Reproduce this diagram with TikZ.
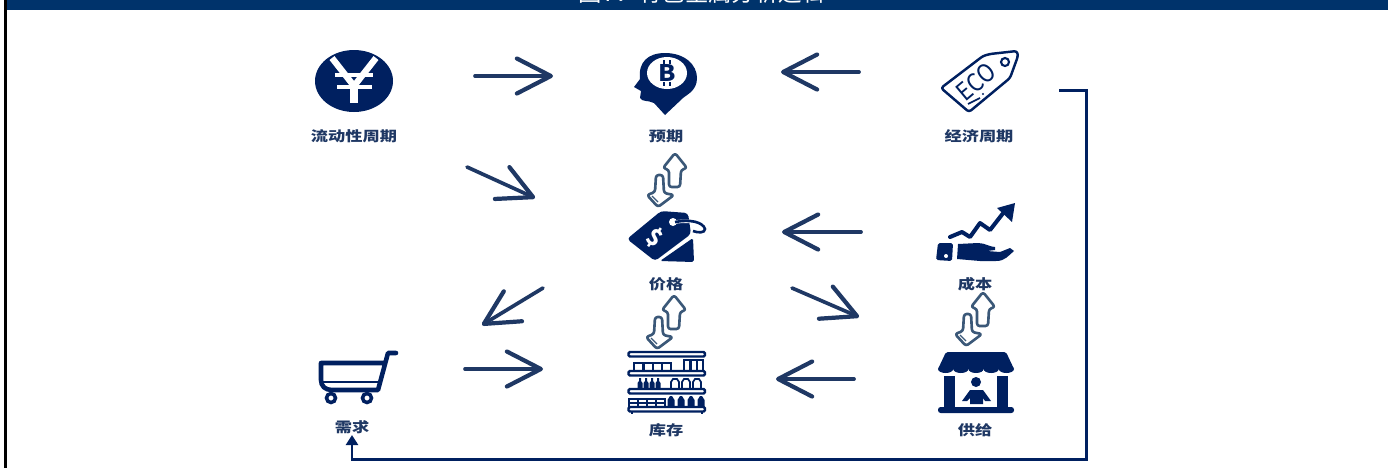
\documentclass[tikz,border=0pt]{standalone}
\usepackage{fontspec}
\setmainfont{Noto Sans CJK SC}
\usetikzlibrary{arrows.meta}
\definecolor{navy}{HTML}{002060}
\definecolor{arrowblue}{HTML}{1F3864}
\definecolor{bandblue}{HTML}{00336B}
\definecolor{swapgray}{HTML}{3B5878}
\tikzset{
  iconbox/.style={minimum width=1.5cm,minimum height=1.2cm,inner sep=0pt},
  iconlabel/.style={text=arrowblue,font=\fontsize{7.9pt}{9pt}\selectfont\bfseries,xscale=1.24,transform shape,inner sep=0pt},
  flowarrow/.style={draw=arrowblue,line width=2.1pt,line cap=round,-{Straight Barb[length=0.68cm,width=0.7cm,round,line width=2.4pt]}},
  feedline/.style={draw=navy,line width=1.7pt,-{Triangle[length=0.2cm,width=0.24cm]}},
  swapline/.style={draw=swapgray,line width=1.5pt,line join=round,rounded corners=1.5pt,fill=white},
  swaparrows/.pic={
    \draw[swapline] (-4,-12) -- (8,-27) -- (20,-12) -- (14,-10) -- (13,7) -- (2,7) -- (2,-10) -- cycle;
    \draw[swapline] (-11,-5) -- (-4,-5) -- (-3,13) -- (7,15) -- (-9,27) -- (-20,15) -- (-12,12) -- cycle;
    \draw[swapgray,line width=0.7pt] (-15,16) -- (-9,22);
  }
}
\begin{document}
\begin{tikzpicture}[x=0.02cm,y=-0.02cm]
  \useasboundingbox (0,0) rectangle (1388,468);
  % Frame and the title band
  \fill[bandblue] (5,0) rectangle (1388,9.5);
  \fill[black] (4,0) rectangle (7,468);
  \begin{scope}
    \clip (0,0) rectangle (1388,9.5);
    \node[text=white,font=\fontsize{13.3pt}{15pt}\selectfont,inner sep=0pt] (title) at (702,-7) {图7：有色金属分析逻辑};
  \end{scope}

  % Icon places
  \node[iconbox] (liq) at (354,81) {};
  \node[iconbox] (expect) at (666,82) {};
  \node[iconbox] (eco) at (979,81) {};
  \node[iconbox] (price) at (666,235) {};
  \node[iconbox] (cost) at (975,233) {};
  \node[iconbox] (stock) at (666,382) {};
  \node[iconbox] (supply) at (975,381) {};
  \node[iconbox] (cart) at (358,377) {};

  % Labels
  \node[iconlabel] (liqlabel) at (354,136) {流动性周期};
  \node[iconlabel] (expectlabel) at (666,136) {预期};
  \node[iconlabel] (ecolabel) at (979,136) {经济周期};
  \node[iconlabel] (pricelabel) at (666,284) {价格};
  \node[iconlabel] (costlabel) at (975,284) {成本};
  \node[iconlabel] (stocklabel) at (666,430) {库存};
  \node[iconlabel] (supplylabel) at (975,430) {供给};
  \node[iconlabel] (cartlabel) at (352,427) {需求};

  % Yen coin
  \fill[navy] (354,81) ellipse [x radius=39,y radius=31];
  \draw[white,line width=3.6pt] (332,58) -- (354,86) -- (376,58);
  \draw[white,line width=4pt] (354,82) -- (354,103);
  \draw[white,line width=2.4pt] (335,75) -- (373,75) (337,87) -- (372,87);

  % Head with coin
  \fill[navy] (665,53) .. controls (685,53) and (697,65) .. (697,78)
    .. controls (697,90) and (688,94) .. (683,98) -- (665,115) -- (654,103)
    .. controls (648,100) and (642,102) .. (640,98) -- (641,91) -- (634,87) -- (640,79)
    .. controls (638,62) and (648,53) .. (665,53) -- cycle;
  \fill[white] (667,73) ellipse [x radius=20,y radius=16];
  \node[text=navy,font=\fontsize{13pt}{14pt}\selectfont\bfseries,inner sep=0pt,xscale=1.1] (coinmark) at (667,73) {B};
  \draw[navy,line width=1.1pt] (664,60) -- (664,64) (670,60) -- (670,64) (664,82) -- (664,86) (670,82) -- (670,86);

  % ECO tag
  \draw[navy,line width=1.4pt,line join=round,rounded corners=1.5pt] (1017,51) -- (1018,56) -- (1010,78) -- (969,112) -- (941,88) -- (983,56) -- (990,54) -- cycle;
  \draw[navy,line width=1.2pt] (1005,62) circle (4);
  \node[text=navy,font=\fontsize{14pt}{15pt}\selectfont,rotate=40,inner sep=0pt,xscale=0.9] (ecomark) at (976,82) {ECO};
  \draw[navy,line width=1pt] (968,104) -- (980,98);
  \fill[navy] (983,94) circle (1.2);

  % Price tag
  \fill[navy,rounded corners=2pt] (627,239) -- (661,211) -- (688,213) -- (691,234) -- (655,261) -- cycle;
  \fill[navy,rounded corners=1pt] (660,261) -- (693,238) -- (694,262) -- cycle;
  \fill[white] (673,222) circle (4);
  \draw[white,line width=2pt] (675,222) .. controls (690,220) and (700,222) .. (705,229);
  \draw[navy,line width=1.5pt] (675,222) .. controls (690,219) and (703,222) .. (705,229) .. controls (705,233) and (698,233) .. (693,231);
  \node[text=white,font=\fontsize{13pt}{14pt}\selectfont\bfseries,rotate=-35,inner sep=0pt] (pricemark) at (655,238) {\$};

  % Hand with rising line
  \draw[navy,line width=2.3pt,line cap=round,line join=round] (950,237) -- (962,232) -- (970,237) -- (980,223) -- (990,230) -- (1004,212);
  \fill[navy] (1015,203) -- (997,208) -- (1012,222) -- cycle;
  \fill[navy,rounded corners=1pt] (938,243) -- (953,243) -- (952,261) -- (936,260) -- cycle;
  \fill[white] (946,256) circle (2);
  \fill[navy] (958,244) -- (978,243) .. controls (985,243) and (990,247) .. (995,247) -- (995,250) -- (987,251) -- (1000,252) -- (1010,248) -- (1014,251)
    .. controls (1008,256) and (1005,261) .. (996,261) -- (980,261) -- (957,259) -- cycle;

  % Market stall
  \fill[navy,rounded corners=1pt] (946,352) -- (1006,352) -- (1014,369) -- (938,369) -- cycle;
  \foreach \sx in {945.6,960.8,976,991.2,1006.4}{
    \fill[navy] (\sx,369) ellipse [x radius=7.6,y radius=4];
  }
  \fill[navy] (944,376) rectangle (955,408);
  \fill[navy] (997,376) rectangle (1008,408);
  \fill[navy,rounded corners=1.5pt] (938,407) rectangle (1014,413);
  \fill[navy] (976,382) circle (5);
  \fill[navy] (962,401) -- (970,390) -- (983,390) -- (991,401) -- (985,401) -- (983,398) -- (983,404) -- (970,404) -- (970,398) -- (967,401) -- cycle;

  % Shelves
  \foreach \sx in {634,644,653,662}{
    \draw[navy,line width=1pt] (\sx,363) rectangle (\sx+9,371);
  }
  \foreach \sx in {684,691,697}{
    \draw[navy,line width=1pt] (\sx,360) rectangle (\sx+6,371);
  }
  \foreach \sx in {640,646,652,658}{
    \fill[navy] (\sx-2.5,389) -- (\sx-2.5,383) -- (\sx-1,381) -- (\sx-1,378) -- (\sx+1,378) -- (\sx+1,381) -- (\sx+2.5,383) -- (\sx+2.5,389) -- cycle;
  }
  \foreach \sx in {675,686,697}{
    \draw[navy,line width=1pt] (\sx-4,389) -- (\sx-4,382) -- (\sx-2,379) -- (\sx+2,379) -- (\sx+4,382) -- (\sx+4,389);
  }
  \foreach \sx in {629,638,647,656}{
    \draw[navy,line width=0.8pt] (\sx,399) rectangle (\sx+9,403) (\sx,403) rectangle (\sx+9,407);
  }
  \foreach \sx in {671,681,691,701}{
    \fill[navy] (\sx-3.5,407) -- (\sx-3.5,400) -- (\sx-1,396) -- (\sx+1,396) -- (\sx+3.5,400) -- (\sx+3.5,407) -- cycle;
  }
  \foreach \sy in {352,371,389,407}{
    \draw[navy,line width=1.4pt,fill=white,rounded corners=0.8pt] (628.5,\sy) rectangle (705,\sy+4.5);
  }
  \draw[navy,line width=1pt] (632,412) -- (632,414) (702,412) -- (702,414);

  % Shopping cart
  \draw[navy,line width=2.6pt,line join=round,line cap=round] (396,353) -- (388,353) -- (378,390) -- (332,390) .. controls (325,390) and (321,386) .. (321,380) -- (321,363) -- (384,363);
  \draw[navy,line width=1.6pt] (322,382) -- (380,382);
  \draw[navy,line width=2pt] (331,398) circle (4.5) (367,398) circle (4.5);

  % Paired up and down arrows
  \pic at (667,180) {swaparrows};
  \pic at (666,322) {swaparrows};
  \pic at (975,319) {swaparrows};

  % Arrows between the icons
  \draw[flowarrow] ([shift={(121,-5)}]liq.center) -- ([shift={(-113,-6)}]expect.center);
  \draw[flowarrow] ([shift={(-120,-9)}]eco.center) -- ([shift={(115,-10)}]expect.center);
  \draw[flowarrow] ([shift={(113,86)}]liq.center) -- ([shift={(-131,-37)}]price.center);
  \draw[flowarrow] ([shift={(-123,53)}]price.center) -- ([shift={(124,-52)}]cart.center);
  \draw[flowarrow] ([shift={(107,-8)}]cart.center) -- ([shift={(-123,-13)}]stock.center);
  \draw[flowarrow] ([shift={(-114,-1)}]cost.center) -- ([shift={(116,-3)}]price.center);
  \draw[flowarrow] ([shift={(126,53)}]price.center) -- ([shift={(-116,-64)}]supply.center);
  \draw[flowarrow] ([shift={(-121,-2)}]supply.center) -- ([shift={(110,-3)}]stock.center);

  % Feedback line from the cycle back to demand
  \draw[feedline] ([shift={(80,9)}]eco.center) -- (1086,90) -- (1086,459) -| ([yshift=-0.02cm]cartlabel.south);
\end{tikzpicture}
\end{document}
